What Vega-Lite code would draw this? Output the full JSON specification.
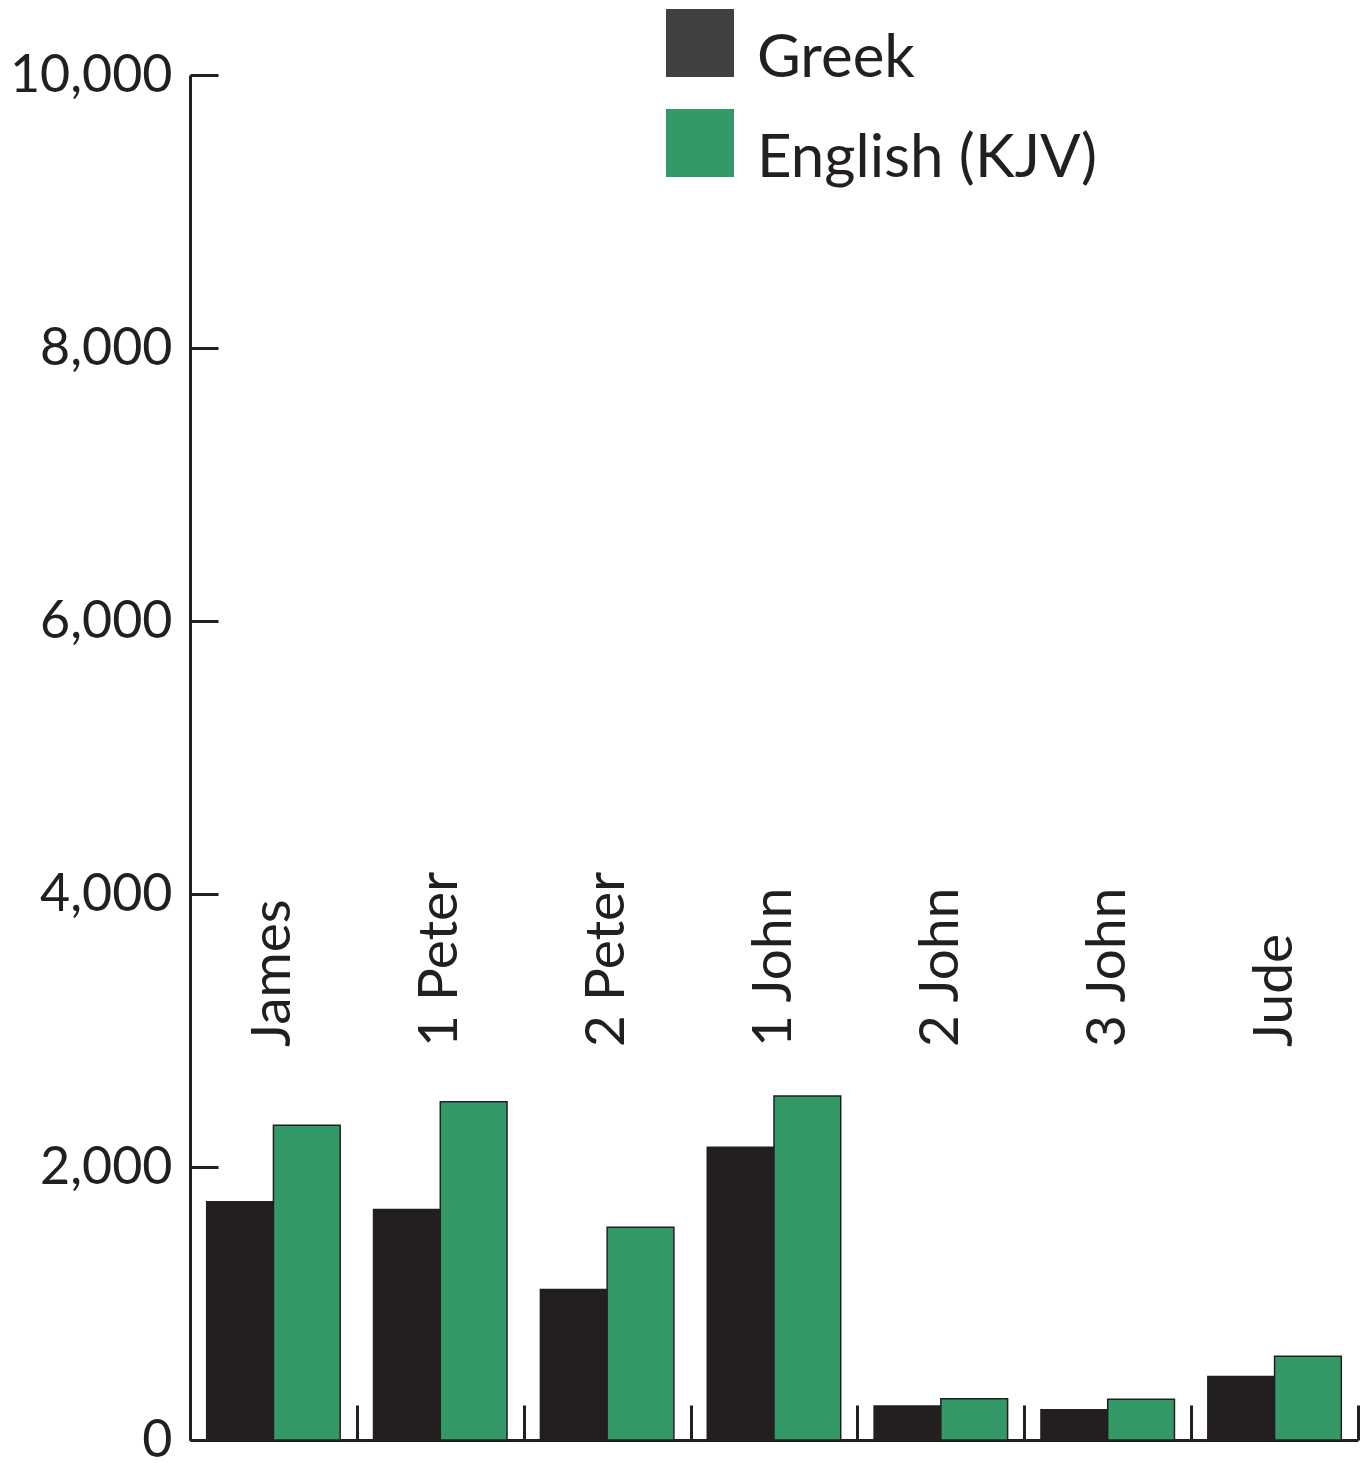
{
  "$schema": "https://vega.github.io/schema/vega-lite/v6.json",
  "width": 1168,
  "height": 1365,
  "autosize": {"type": "none"},
  "padding": {"left": 190, "top": 75, "right": 6, "bottom": 23},
  "background": "white",
  "config": {
    "view": {"stroke": null},
    "font": "Lato",
    "style": {"guide-label": {"dy": 34}}
  },
  "data": {
    "values": [
      {"book": "James", "language": "Greek", "words": 1745},
      {"book": "James", "language": "English (KJV)", "words": 2305},
      {"book": "1 Peter", "language": "Greek", "words": 1688},
      {"book": "1 Peter", "language": "English (KJV)", "words": 2478},
      {"book": "2 Peter", "language": "Greek", "words": 1103},
      {"book": "2 Peter", "language": "English (KJV)", "words": 1558},
      {"book": "1 John", "language": "Greek", "words": 2144},
      {"book": "1 John", "language": "English (KJV)", "words": 2520},
      {"book": "2 John", "language": "Greek", "words": 250},
      {"book": "2 John", "language": "English (KJV)", "words": 303},
      {"book": "3 John", "language": "Greek", "words": 222},
      {"book": "3 John", "language": "English (KJV)", "words": 299},
      {"book": "Jude", "language": "Greek", "words": 465},
      {"book": "Jude", "language": "English (KJV)", "words": 613}
    ]
  },
  "layer": [
    {
      "mark": {"type": "bar", "stroke": "#231f20", "strokeWidth": 1.5},
      "encoding": {
        "x": {
          "field": "book",
          "type": "nominal",
          "sort": ["James", "1 Peter", "2 Peter", "1 John", "2 John", "3 John", "Jude"],
          "scale": {"paddingInner": 0, "paddingOuter": 0},
          "axis": {
            "orient": "bottom",
            "labels": false,
            "title": null,
            "tickBand": "extent",
            "tickSize": -35,
            "tickWidth": 3,
            "domainWidth": 3,
            "domainColor": "#231f20",
            "tickColor": "#231f20",
            "grid": false
          }
        },
        "xOffset": {
          "field": "language",
          "type": "nominal",
          "sort": ["Greek", "English (KJV)"],
          "scale": {"paddingInner": 0, "paddingOuter": 0.25}
        },
        "y": {
          "field": "words",
          "type": "quantitative",
          "scale": {"domain": [0, 10000], "nice": false},
          "axis": {
            "values": [0, 2000, 4000, 6000, 8000, 10000],
            "format": ",d",
            "title": null,
            "grid": false,
            "tickSize": -28,
            "tickWidth": 3,
            "domainWidth": 3,
            "domainColor": "#231f20",
            "tickColor": "#231f20",
            "labelFontSize": 52,
            "labelFont": "Lato",
            "labelColor": "#231f20",
            "labelPadding": 46,
            "labelOffset": -34
          }
        },
        "fill": {
          "field": "language",
          "type": "nominal",
          "sort": "descending",
          "scale": {"range": ["#231f20", "#339966"]},
          "legend": null
        }
      }
    },
    {
      "transform": [{"filter": "false"}],
      "mark": {"type": "bar"},
      "encoding": {
        "x": {"field": "book", "type": "nominal", "sort": ["James", "1 Peter", "2 Peter", "1 John", "2 John", "3 John", "Jude"]},
        "y": {"field": "words", "type": "quantitative"},
        "color": {
          "field": "language",
          "type": "nominal",
          "scale": {"domain": ["Greek", "English (KJV)"], "range": ["#404040", "#339966"]},
          "legend": {
            "orient": "none",
            "legendX": 476,
            "legendY": -66,
            "padding": 0,
            "title": null,
            "symbolType": "square",
            "symbolSize": 4624,
            "symbolStrokeWidth": 0,
            "symbolOpacity": 1,
            "labelFontSize": 60,
            "labelFont": "Lato",
            "labelColor": "#231f20",
            "labelBaseline": "alphabetic",
            "labelOffset": 23,
            "labelLimit": 0,
            "rowPadding": 20
          }
        }
      }
    },
    {
      "transform": [{"filter": "datum.language === 'Greek'"}],
      "mark": {"type": "text", "angle": 270, "align": "left", "baseline": "middle", "fontSize": 55, "font": "Lato", "color": "#231f20"},
      "encoding": {
        "x": {"field": "book", "type": "nominal", "sort": ["James", "1 Peter", "2 Peter", "1 John", "2 John", "3 John", "Jude"]},
        "y": {"datum": 2880},
        "text": {"field": "book"}
      }
    }
  ]
}
